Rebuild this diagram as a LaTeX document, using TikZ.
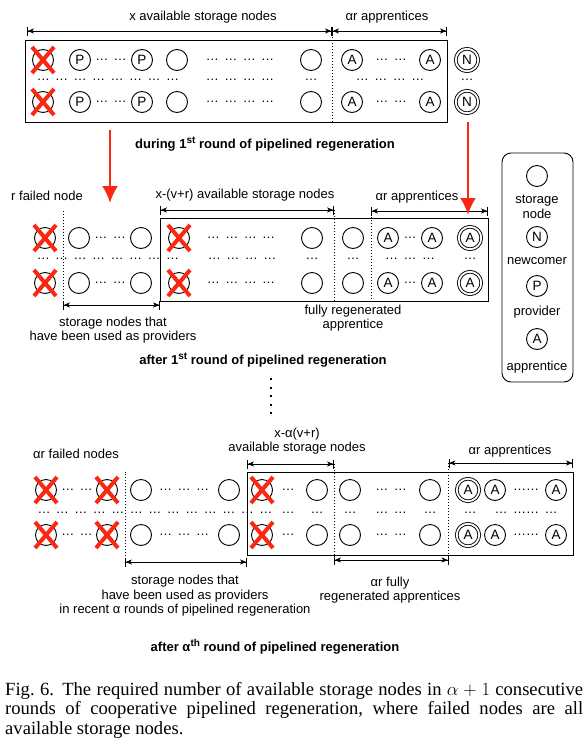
\RequirePackage{fix-cm}
\documentclass[tikz,border=0pt]{standalone}
\usepackage{fontspec}
\setmainfont{Liberation Sans}
\newfontfamily\capfont{Liberation Serif}
\usetikzlibrary{
  arrows.meta,
}
\tikzstyle{stor} = [
  draw,
  circle,
  minimum size=21pt,
  inner sep=0pt,
  line width=0.9pt,
  font=\fontsize{13.5}{13.5}\selectfont,
]
\tikzstyle{newc} = [stor, minimum size=22.5pt, double, double distance=1.8pt]
\tikzstyle{grp} = [inner sep=0pt, font=\fontsize{13}{13}\selectfont]
\tikzstyle{lbl} = [align=center, font=\fontsize{13}{14.5}\selectfont]
\tikzstyle{ttl} = [font=\bfseries\fontsize{13}{14.5}\selectfont]
\tikzstyle{frame} = [draw, line width=0.9pt]
\tikzstyle{sepline} = [line width=0.9pt, dash pattern=on 1pt off 2pt]
\tikzstyle{span} = [
  {Bar[width=9pt]Stealth[length=6pt,width=5pt,inset=1.5pt]}-{Stealth[length=6pt,width=5pt,inset=1.5pt]Bar[width=9pt]},
  line width=0.8pt,
]
\tikzstyle{cross} = [failred, line width=4pt]
\tikzstyle{roundarrow} = [-{Latex[length=17pt,width=16pt]}, line width=2.6pt, failred]
\definecolor{failred}{RGB}{250,40,18}
\newcommand{\gp}{\hspace{5.5pt}}
\newcommand{\dotrun}[1]{\dots\foreach \i in {2,...,#1}{\gp\dots}}
\newcommand{\sups}[1]{\raisebox{5pt}{\fontsize{10}{10}\selectfont #1}}

\begin{document}
\begin{tikzpicture}[x=1pt, y=-1pt]
  \useasboundingbox (0,0) rectangle (587,744);

  % during round 1
  \node[frame, minimum width=422pt, minimum height=82pt] (box1) at (236,81) {};
  \foreach \rw/\yy in {u/60, d/102} {
    \node[stor] (x1\rw) at (43,\yy) {};
    \node[stor] (p1\rw1) at (80,\yy) {P};
    \node[grp] (g1\rw1) at (111,\yy) {\dotrun{2}};
    \node[stor] (p1\rw2) at (142,\yy) {P};
    \node[stor] (s1\rw1) at (177,\yy) {};
    \node[grp] (g1\rw2) at (240,\yy) {\dotrun{4}};
    \node[stor] (s1\rw2) at (311,\yy) {};
    \node[stor] (a1\rw1) at (352,\yy) {A};
    \node[grp] (g1\rw3) at (391,\yy) {\dotrun{2}};
    \node[stor] (a1\rw2) at (430,\yy) {A};
    \node[newc] (n1\rw) at (467,\yy) {N};
  }
  \node[grp] (m1a) at (108,80) {\dotrun{8}};
  \node[grp] (m1b) at (240,80) {\dotrun{4}};
  \node[grp] (m1c) at (311,80) {\dots};
  \node[grp] (m1d) at (390,80) {\dotrun{4}};
  \node[grp] (m1e) at (467,80) {\dots};
  \coordinate (t1l) at (27,31);
  \coordinate (t1m) at (332,31);
  \coordinate (t1r) at (447,31);
  \draw[span] (t1l) -- (t1m);
  \draw[span] (t1m) -- (t1r);
  \draw[sepline] (t1m) -- (t1m |- box1.south);
  \node[lbl] (l1a) at (203,17) {x available storage nodes};
  \node[lbl] (l1b) at (387,17) {αr apprentices};
  \node[ttl] (t1) at (265,144) {during 1\sups{st} round of pipelined regeneration};

  \coordinate (ra1) at (110,130);
  \coordinate (ra2) at (110,203);
  \coordinate (rb1) at (468,122);
  \coordinate (rb2) at (468,215);

  % legend
  \node[frame, rounded corners=9pt, minimum width=71pt, minimum height=229pt] (legend) at (537.5,267.5) {};
  \node[stor] (lg1) at (537,176) {};
  \node[lbl] (lg1t) at (537,207) {storage\\node};
  \node[stor] (lg2) at (537,237) {N};
  \node[lbl] (lg2t) at (537,261) {newcomer};
  \node[stor] (lg3) at (537,286) {P};
  \node[lbl] (lg3t) at (537,312) {provider};
  \node[stor] (lg4) at (537,339) {A};
  \node[lbl] (lg4t) at (537,367) {apprentice};

  % after round 1
  \node[frame, minimum width=328pt, minimum height=83pt] (box2) at (324,259.5) {};
  \foreach \rw/\yy in {u/238, d/283} {
    \node[stor] (x2\rw1) at (45,\yy) {};
    \node[stor] (s2\rw1) at (79,\yy) {};
    \node[grp] (g2\rw1) at (110,\yy) {\dotrun{2}};
    \node[stor] (s2\rw2) at (141,\yy) {};
    \node[stor] (x2\rw2) at (179,\yy) {};
    \node[grp] (g2\rw2) at (241,\yy) {\dotrun{4}};
    \node[stor] (s2\rw3) at (312,\yy) {};
    \node[stor] (s2\rw4) at (353,\yy) {};
    \node[stor] (a2\rw1) at (388,\yy) {A};
    \node[grp] (g2\rw3) at (410,\yy) {\dots};
    \node[stor] (a2\rw2) at (432,\yy) {A};
    \node[newc] (n2\rw) at (470,\yy) {A};
  }
  \node[grp] (m2a) at (108,259) {\dotrun{8}};
  \node[grp] (m2b) at (242,259) {\dotrun{4}};
  \node[grp] (m2c) at (312,259) {\dots};
  \node[grp] (m2d) at (353,259) {\dots};
  \node[grp] (m2e) at (410,259) {\dotrun{3}};
  \node[grp] (m2f) at (470,259) {\dots};
  \coordinate (t2l) at (160,210);
  \coordinate (t2m) at (334,210);
  \coordinate (t2a) at (371,211);
  \coordinate (t2r) at (488,211);
  \coordinate (b2l) at (63,305);
  \coordinate (b2r) at (160,305);
  \draw[span] (t2l) -- (t2m);
  \draw[span] (t2a) -- (t2r);
  \draw[span] (b2l) -- (b2r);
  \draw[sepline] (b2l) -- (b2l |- t2l);
  \draw[sepline] (t2m) -- (t2m |- box2.south);
  \draw[sepline] (t2a) -- (t2a |- box2.south);
  \node[lbl] (l2a) at (47,196) {r failed node};
  \node[lbl] (l2b) at (245,195) {x-(v+r) available storage nodes};
  \node[lbl] (l2c) at (417,197) {αr apprentices};
  \node[lbl] (l2d) at (113,330) {storage nodes that\\have been used as providers};
  \node[lbl] (l2e) at (353,318) {fully regenerated\\apprentice};
  \node[ttl] (t2) at (263,360) {after 1\sups{st} round of pipelined regeneration};

  \coordinate (v1) at (271,378);
  \coordinate (v2) at (271,418);
  \draw[line width=2pt, dash pattern=on 2pt off 6.5pt] (v1) -- (v2);

  % after round alpha
  \node[frame, minimum width=326pt, minimum height=83pt] (box3) at (410,513.5) {};
  \foreach \rw/\yy in {u/490, d/535} {
    \node[stor] (x3\rw1) at (46,\yy) {};
    \node[grp] (g3\rw1) at (77,\yy) {\dotrun{2}};
    \node[stor] (x3\rw2) at (107,\yy) {};
    \node[stor] (s3\rw1) at (141,\yy) {};
    \node[grp] (g3\rw2) at (184,\yy) {\dotrun{3}};
    \node[stor] (s3\rw2) at (229,\yy) {};
    \node[stor] (x3\rw3) at (262,\yy) {};
    \node[grp] (g3\rw3) at (288,\yy) {\dots};
    \node[stor] (s3\rw3) at (317,\yy) {};
    \node[stor] (s3\rw4) at (350,\yy) {};
    \node[grp] (g3\rw4) at (391,\yy) {\dotrun{2}};
    \node[stor] (s3\rw5) at (430,\yy) {};
    \node[newc] (n3\rw) at (468,\yy) {A};
    \node[stor] (a3\rw1) at (495,\yy) {A};
    \node[grp] (g3\rw5) at (526,\yy) {\dots\dots};
    \node[stor] (a3\rw2) at (556,\yy) {A};
  }
  \node[grp] (m3a) at (155,513) {\dotrun{13}};
  \node[grp] (m3b) at (288,513) {\dots};
  \node[grp] (m3c) at (317,513) {\dots};
  \node[grp] (m3d) at (350,513) {\dots};
  \node[grp] (m3e) at (391,513) {\dotrun{2}};
  \node[grp] (m3f) at (430,513) {\dots};
  \node[grp] (m3g) at (470,513) {\dots};
  \node[grp] (m3h) at (526,513) {\dots\gp\dots\dots\gp\dots};
  \coordinate (t3l) at (247,464);
  \coordinate (t3m) at (334,464);
  \coordinate (t3a) at (448.5,463);
  \coordinate (t3r) at (573,463);
  \coordinate (b3l) at (125,562);
  \coordinate (b3r) at (247,562);
  \coordinate (b3m) at (334,560);
  \coordinate (b3a) at (448.5,560);
  \draw[span] (t3l) -- (t3m);
  \draw[span] (t3a) -- (t3r);
  \draw[span] (b3l) -- (b3r);
  \draw[span] (b3m) -- (b3a);
  \draw[sepline] (b3l) -- (b3l |- box3.north);
  \draw[sepline] (t3m) -- (b3m);
  \draw[sepline] (t3a) -- (b3a);
  \node[lbl] (l3a) at (297,441) {x-α(v+r)\\available storage nodes};
  \node[lbl] (l3b) at (76,454) {αr failed nodes};
  \node[lbl] (l3c) at (510,451) {αr apprentices};
  \node[lbl] (l3d) at (185,596) {storage nodes that\\have been used as providers\\in recent α rounds of pipelined regeneration};
  \node[lbl] (l3e) at (390,590) {αr fully\\regenerated apprentices};
  \node[ttl] (t3) at (275,647) {after α\sups{th} round of pipelined regeneration};

  \foreach \f in {x1u, x1d, x2u1, x2d1, x2u2, x2d2, x3u1, x3d1, x3u2, x3d2, x3u3, x3d3}
    \draw[cross] (\f.center) ++(-11,-13) -- ++(22,26) (\f.center) ++(11,-13) -- ++(-22,26);
  \draw[roundarrow] (ra1) -- (ra2);
  \draw[roundarrow] (rb1) -- (rb2);

  \node[anchor=north west, inner sep=0pt, text width=578pt, align=justify,
    font=\capfont\fontsize{18.6}{19.6}\selectfont] (cap) at (5,682)
    {Fig.~6.\hspace{0.45em}The required number of \mbox{available} storage nodes in $\alpha+1$ \mbox{consecutive} rounds of \mbox{cooperative} \mbox{pipelined} \mbox{regeneration,} where failed nodes are all \mbox{available} storage nodes.};
\end{tikzpicture}
\end{document}
